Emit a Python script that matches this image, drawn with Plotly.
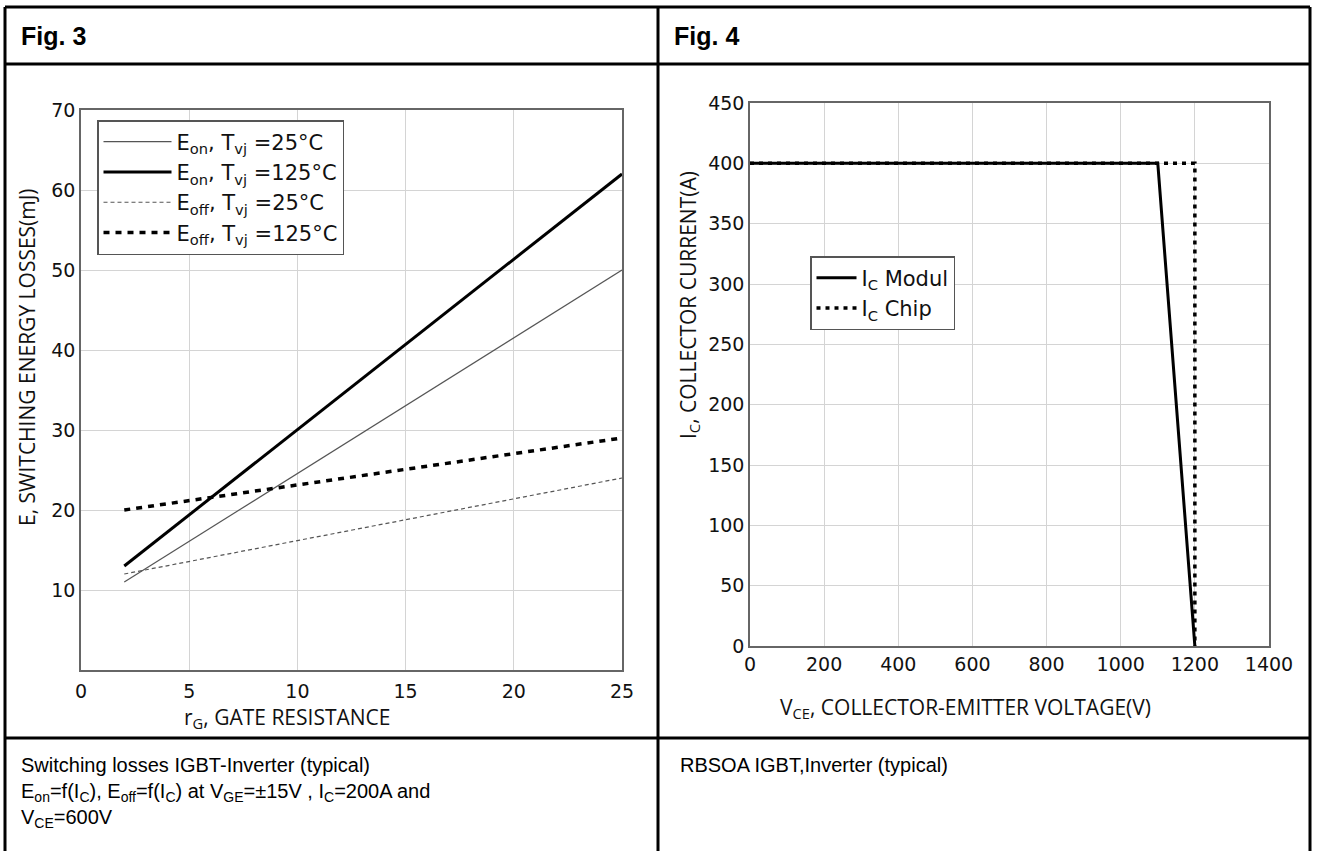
import plotly.graph_objects as go

W, H = 1317, 851

# ---------------- data ----------------
# Fig. 3: switching energy vs gate resistance
rg = [2, 25]
eon_25 = [11, 50]
eon_125 = [13, 62]
eoff_25 = [12, 24]
eoff_125 = [20, 29]

# Fig. 4: RBSOA
vce_modul = [0, 1100, 1200]
ic_modul = [400, 400, 0]
vce_chip = [0, 1200, 1200]
ic_chip = [400, 400, 0]

x1_ticks = [0, 5, 10, 15, 20, 25]
y1_ticks = [10, 20, 30, 40, 50, 60, 70]
x2_ticks = [0, 200, 400, 600, 800, 1000, 1200, 1400]
y2_ticks = [0, 50, 100, 150, 200, 250, 300, 350, 400, 450]


def px(x):
    return x / W


def py(y):
    return 1 - y / H


GRAY = "#555555"
TICKFONT = dict(family="DejaVu Sans", size=19, color="#111111")
LEGFONT = dict(family="DejaVu Sans", size=21, color="#111111")
TITLEFONT = dict(family="Open Sans", size=21, color="#111111")

fig = go.Figure()

fig.add_trace(go.Scatter(x=rg, y=eon_25, mode="lines", name="E<sub>on</sub>, T<sub>vj</sub> =25°C",
                         line=dict(color=GRAY, width=1.2), xaxis="x", yaxis="y", legend="legend"))
fig.add_trace(go.Scatter(x=rg, y=eon_125, mode="lines", name="E<sub>on</sub>, T<sub>vj</sub> =125°C",
                         line=dict(color="black", width=3), xaxis="x", yaxis="y", legend="legend"))
fig.add_trace(go.Scatter(x=rg, y=eoff_25, mode="lines", name="E<sub>off</sub>, T<sub>vj</sub> =25°C",
                         line=dict(color=GRAY, width=1.2, dash="4px,3px"), xaxis="x", yaxis="y", legend="legend"))
fig.add_trace(go.Scatter(x=rg, y=eoff_125, mode="lines", name="E<sub>off</sub>, T<sub>vj</sub> =125°C",
                         line=dict(color="black", width=3.5, dash="6px,6px"), xaxis="x", yaxis="y", legend="legend"))

fig.add_trace(go.Scatter(x=vce_chip, y=ic_chip, mode="lines", name="I<sub>C</sub> Chip",
                         line=dict(color="black", width=3.5, dash="4px,5px"), xaxis="x2", yaxis="y2", legend="legend2"))
fig.add_trace(go.Scatter(x=vce_modul, y=ic_modul, mode="lines", name="I<sub>C</sub> Modul",
                         line=dict(color="black", width=3), xaxis="x2", yaxis="y2", legend="legend2"))

axis_common = dict(showline=True, linecolor="#666666", linewidth=1.5, mirror=True,
                   showgrid=True, gridcolor="#d4d4d4", gridwidth=1, zeroline=False,
                   tickfont=TICKFONT, ticks="", automargin=False)

fig.update_layout(
    width=W, height=H, autosize=False,
    margin=dict(l=0, r=0, t=0, b=0, pad=0, autoexpand=False),
    paper_bgcolor="white", plot_bgcolor="white",
    showlegend=True,
    xaxis=dict(domain=[px(81), px(622)], range=[0, 25], tickvals=x1_ticks, anchor="y",
               ticklabelstandoff=3, **axis_common),
    yaxis=dict(domain=[py(670), py(110)], range=[0, 70], tickvals=y1_ticks, anchor="x", **axis_common),
    xaxis2=dict(domain=[px(750), px(1269)], range=[0, 1400], tickvals=x2_ticks, anchor="y2", **axis_common),
    yaxis2=dict(domain=[py(646), py(103)], range=[0, 450], tickvals=y2_ticks, anchor="x2", **axis_common),
    legend=dict(x=px(97), y=py(120), xanchor="left", yanchor="top", bgcolor="white",
                bordercolor="#555555", borderwidth=1.5, font=LEGFONT, traceorder="normal",
                tracegroupgap=0, itemwidth=68),
    legend2=dict(x=px(810), y=py(256), xanchor="left", yanchor="top", bgcolor="white",
                 bordercolor="#555555", borderwidth=1.5, font=LEGFONT, traceorder="reversed",
                 tracegroupgap=0, itemwidth=40),
)

# table frame
lines = [
    (5, 7, 1310, 7), (5, 64, 1310, 64), (5, 738, 1310, 738),
    (5, 7, 5, 851), (658, 7, 658, 851), (1310, 7, 1310, 851),
]
for x0, y0, x1, y1 in lines:
    fig.add_shape(type="line", xref="paper", yref="paper", x0=px(x0), y0=py(y0), x1=px(x1), y1=py(y1),
                  line=dict(color="black", width=3))

ann = [
    dict(text="<b>Fig. 3</b>", x=px(19), y=py(36), xanchor="left", yanchor="middle",
         font=dict(family="Liberation Sans", size=25, color="black")),
    dict(text="<b>Fig. 4</b>", x=px(672), y=py(36), xanchor="left", yanchor="middle",
         font=dict(family="Liberation Sans", size=25, color="black")),
    dict(text="E, SWITCHING ENERGY LOSSES(mJ)", x=px(27), y=py(357), textangle=-90,
         xanchor="center", yanchor="middle", font=TITLEFONT),
    dict(text="r<sub>G</sub>, GATE RESISTANCE", x=px(287), y=py(718), xanchor="center", yanchor="middle",
         font=TITLEFONT),
    dict(text="I<sub>C</sub>, COLLECTOR CURRENT(A)", x=px(689), y=py(305), textangle=-90,
         xanchor="center", yanchor="middle", font=TITLEFONT),
    dict(text="V<sub>CE</sub>, COLLECTOR-EMITTER VOLTAGE(V)", x=px(965), y=py(708), xanchor="center",
         yanchor="middle", font=TITLEFONT),
    dict(text="Switching losses IGBT-Inverter (typical)<br>"
              "E<sub>on</sub>=f(I<sub>C</sub>), E<sub>off</sub>=f(I<sub>C</sub>) at V<sub>GE</sub>=±15V , "
              "I<sub>C</sub>=200A and<br>V<sub>CE</sub>=600V",
         x=px(19), y=py(752), xanchor="left", yanchor="top", align="left",
         font=dict(family="Liberation Sans", size=20, color="black")),
    dict(text="RBSOA IGBT,Inverter (typical)", x=px(678), y=py(752), xanchor="left", yanchor="top",
         align="left", font=dict(family="Liberation Sans", size=20, color="black")),
]
for a in ann:
    fig.add_annotation(xref="paper", yref="paper", showarrow=False, **a)

post = ("document.documentElement.style.margin='0';document.body.style.margin='0';"
        "document.documentElement.style.overflow='hidden';document.body.style.overflow='hidden';")

fig.write_html("out.html", config={"displayModeBar": False, "responsive": False}, post_script=post)
